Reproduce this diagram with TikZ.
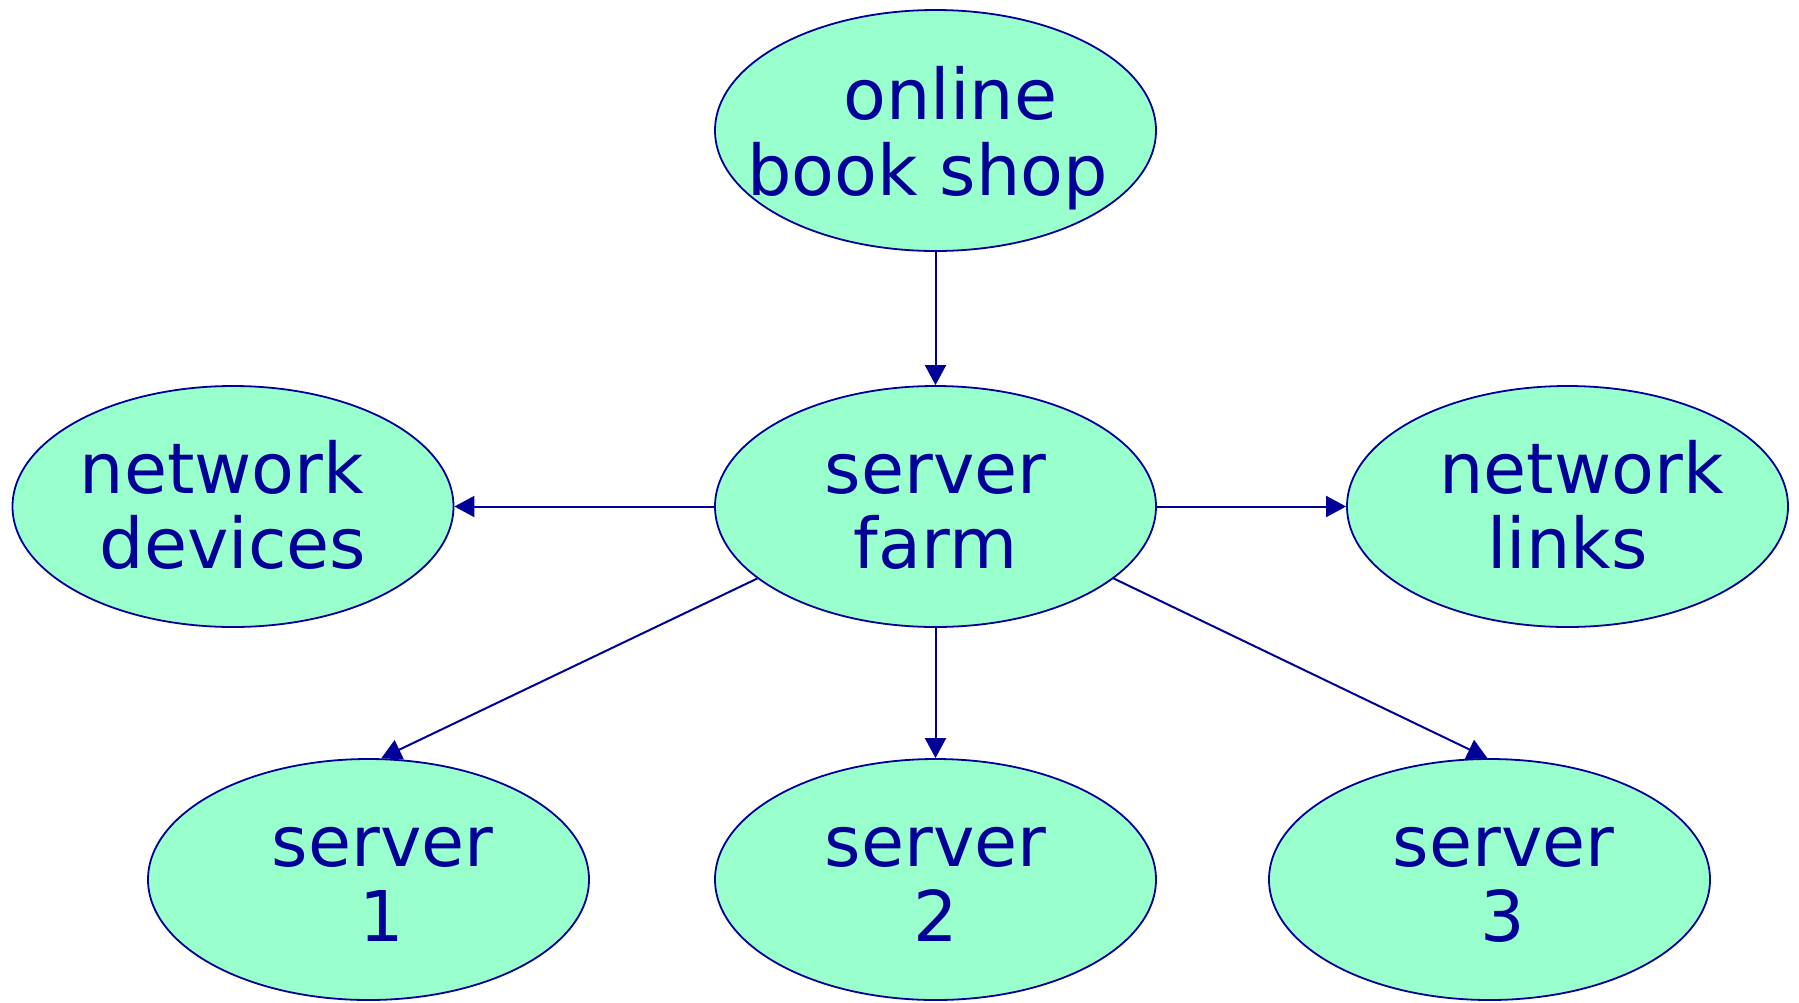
\documentclass[tikz,border=0pt]{standalone}
\usepackage{fontspec}
\setmainfont{DejaVu Sans}
\usetikzlibrary{arrows.meta,shapes.geometric}
\definecolor{mintfill}{HTML}{99FFCC}
\definecolor{inkblue}{HTML}{000099}
% two centred lines in a box of zero size, first baseline raised by #1
\newcommand\twoline[3][13.5pt]{\makebox[0pt]{\raisebox{#1}[0pt][0pt]{\begin{tabular}[t]{@{}c@{}}#2\\#3\end{tabular}}}}
\begin{document}
\begin{tikzpicture}[x=1pt,y=-1pt,
  oval/.style={ellipse, draw=inkblue, fill=mintfill, line width=1.8pt,
    inner sep=0pt, minimum width=441pt, minimum height=241pt,
    text=inkblue, font=\fontsize{70}{75}\selectfont},
  link/.style={draw=inkblue, line width=2pt,
    -{Triangle[length=20pt,width=21pt]}}]
\useasboundingbox (0,0) rectangle (1799,1002);

\node[oval] (shop)    at (935.5,130.5) {\twoline[11pt]{\hspace*{30pt}online}{book shop\hspace*{16pt}}};
\node[oval] (farm)    at (935.5,506.5) {\twoline{server}{farm}};
\node[oval] (devices) at (233,506.5)   {\twoline{network\hspace*{22pt}}{devices}};
\node[oval] (links)   at (1567.5,506.5){\twoline{\hspace*{28pt}network}{links}};
\node[oval] (s1)      at (368.5,879.5) {\twoline{\hspace*{28pt}server}{\hspace*{27pt}1}};
\node[oval] (s2)      at (935.5,879.5) {\twoline{server}{2}};
\node[oval] (s3)      at (1489.5,879.5){\twoline{\hspace*{28pt}server}{\hspace*{27pt}3}};

\draw[link] (shop) -- (farm);
\draw[link] (farm) -- (devices);
\draw[link] (farm) -- (links);
\draw[link] (farm) -- (s2);
\draw[link] (farm.202.5) -- (s1.84);
\draw[link] (farm.338) -- (s3.91);
\end{tikzpicture}
\end{document}
